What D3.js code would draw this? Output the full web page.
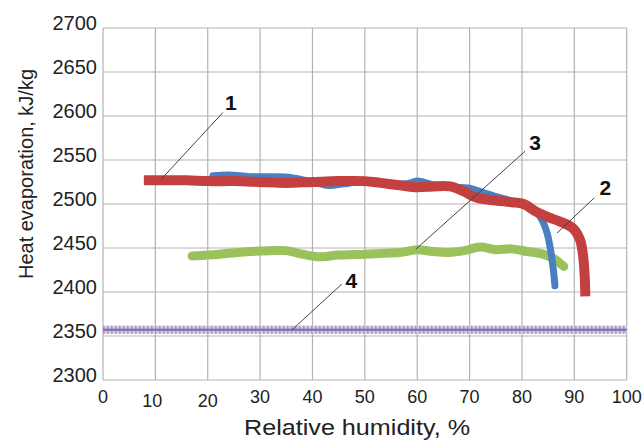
<!DOCTYPE html>
<html>
<head>
<meta charset="utf-8">
<script src="https://cdn.jsdelivr.net/npm/d3@7/dist/d3.min.js"></script>
<style>
  html, body { margin: 0; padding: 0; background: #fff; }
  svg { display: block; font-family: "Liberation Sans", Arial, sans-serif; }
</style>
</head>
<body>
<svg id="chart" width="643" height="441"></svg>
<script>
// ---- data ----
const xTicks = [0, 10, 20, 30, 40, 50, 60, 70, 80, 90, 100];
const yTicks = [2300, 2350, 2400, 2450, 2500, 2550, 2600, 2650, 2700];

// curve 1 (red)
const redH = [7.8, 12, 16, 20, 25, 30, 35, 40, 45, 50, 53, 57, 60, 63, 66.3, 69, 71.4, 75, 78, 80.3, 82.8, 85, 87.3, 89.8, 91.1, 91.7, 92, 92.1];
const redV = [2527, 2527, 2527, 2526, 2526, 2525, 2524, 2525, 2526, 2526, 2524, 2521, 2519, 2520, 2520, 2514, 2507, 2504, 2502, 2500, 2491, 2485, 2480, 2472, 2459, 2440, 2415, 2395];

// curve 2 (blue)
const blueH = [21, 24, 28, 32, 36, 40, 43, 46, 50, 55, 58, 60, 63, 66, 70, 73, 76, 80, 82, 83.4, 84.7, 85.4, 86, 86.3];
const blueV = [2532, 2533, 2531, 2531, 2530, 2525, 2521, 2523, 2526, 2523, 2523, 2526, 2522, 2519, 2518, 2512, 2507, 2500, 2494, 2486, 2469, 2450, 2425, 2407];

// curve 3 (green)
const greenH = [17, 20, 24, 28, 32, 35, 38, 41, 45, 50, 54, 57, 60, 63, 66, 69, 72, 75, 78, 81, 84, 86, 87.2, 88];
const greenV = [2441, 2442, 2444, 2446, 2447, 2447, 2443, 2440, 2442, 2443, 2444, 2445, 2448, 2446, 2445, 2447, 2451, 2448, 2449, 2446, 2443, 2438, 2433, 2429];

// curve 4 (purple, constant)
const purpleH = [0, 100];
const purpleV = [2357, 2357];

// annotations: label, label position, leader start, leader end (data units)
const annLabels = ["1", "2", "3", "4"];
const annLabelH = [24.4, 95.9, 82.5, 47.4];
const annLabelV = [2607, 2510, 2561, 2404];
const annFromH = [22.9, 93.8, 80.6, 45.6];
const annFromV = [2604, 2507, 2560, 2409];
const annToH = [11.1, 86.7, 59.8, 36.1];
const annToV = [2528, 2467, 2449, 2357];

// ---- layout ----
const svg = d3.select("#chart");
const pLeft = 103, pRight = 626.7, pTop = 28, pBottom = 380;
const x = d3.scaleLinear().domain([0, 100]).range([pLeft, pRight]);
const y = d3.scaleLinear().domain([2300, 2700]).range([pBottom, pTop]);
const gridColor = "#b3b3b3";
const textColor = "#222";

// grid
const g = svg.append("g");
g.selectAll("line.vg").data(xTicks).enter().append("line")
  .attr("x1", d => x(d)).attr("x2", d => x(d))
  .attr("y1", pTop).attr("y2", pBottom)
  .attr("stroke", gridColor).attr("stroke-width", 1.2);
g.selectAll("line.hg").data(yTicks).enter().append("line")
  .attr("x1", pLeft).attr("x2", pRight)
  .attr("y1", d => y(d)).attr("y2", d => y(d))
  .attr("stroke", gridColor).attr("stroke-width", 1.2);

// y tick labels
svg.append("g").selectAll("text").data(yTicks).enter().append("text")
  .attr("x", 97).attr("y", d => y(d) + 2)
  .attr("text-anchor", "end")
  .attr("font-size", 20).attr("fill", textColor)
  .text(d => d);

// x tick labels (10 and 20 sit a bit lower in the original)
svg.append("g").selectAll("text").data(xTicks).enter().append("text")
  .attr("x", d => x(d) + (d === 10 ? -3 : 0))
  .attr("y", d => (d === 10 || d === 20) ? 407 : 403)
  .attr("text-anchor", "middle")
  .attr("font-size", 18).attr("fill", textColor)
  .text(d => d);

// axis titles
svg.append("text")
  .attr("x", 357).attr("y", 435)
  .attr("text-anchor", "middle")
  .attr("font-size", 22).attr("fill", textColor)
  .attr("textLength", 226).attr("lengthAdjust", "spacingAndGlyphs")
  .text("Relative humidity, %");
svg.append("text")
  .attr("transform", "translate(33,174) rotate(-90)")
  .attr("text-anchor", "middle")
  .attr("font-size", 20).attr("fill", textColor)
  .text("Heat evaporation, kJ/kg");

// lines
function pts(H, V) { return H.map((h, i) => [h, V[i]]); }
const lineLin = d3.line().x(d => x(d[0])).y(d => y(d[1]));
const lineSmooth = d3.line().x(d => x(d[0])).y(d => y(d[1])).curve(d3.curveCatmullRom);

// purple constant line with marker texture
const pp = pts(purpleH, purpleV);
svg.append("path").attr("d", lineLin(pp)).attr("fill", "none")
  .attr("stroke", "#d2c8e6").attr("stroke-width", 8);
svg.append("path").attr("d", lineLin(pp)).attr("fill", "none")
  .attr("stroke", "#a898cc").attr("stroke-width", 8).attr("stroke-dasharray", "1.5 2.5");
svg.append("path").attr("d", lineLin(pp)).attr("fill", "none")
  .attr("stroke", "#7d68ad").attr("stroke-width", 2);

// green
svg.append("path").attr("d", lineSmooth(pts(greenH, greenV)))
  .attr("fill", "none").attr("stroke", "#9bc15a").attr("stroke-width", 9)
  .attr("stroke-linecap", "round").attr("stroke-linejoin", "round");

// blue
svg.append("path").attr("d", lineSmooth(pts(blueH, blueV)))
  .attr("fill", "none").attr("stroke", "#4a7fc1").attr("stroke-width", 7)
  .attr("stroke-linecap", "round").attr("stroke-linejoin", "round");

// red
svg.append("path").attr("d", lineSmooth(pts(redH, redV)))
  .attr("fill", "none").attr("stroke", "#c4403f").attr("stroke-width", 10)
  .attr("stroke-linecap", "butt").attr("stroke-linejoin", "round");

// annotations
const ann = svg.append("g");
annLabels.forEach((lab, i) => {
  ann.append("line")
    .attr("x1", x(annFromH[i])).attr("y1", y(annFromV[i]))
    .attr("x2", x(annToH[i])).attr("y2", y(annToV[i]))
    .attr("stroke", "#444").attr("stroke-width", 1);
  ann.append("text")
    .attr("x", x(annLabelH[i])).attr("y", y(annLabelV[i]))
    .attr("text-anchor", "middle")
    .attr("font-size", 21).attr("font-weight", "bold").attr("fill", "#111")
    .text(lab);
});
</script>
</body>
</html>
